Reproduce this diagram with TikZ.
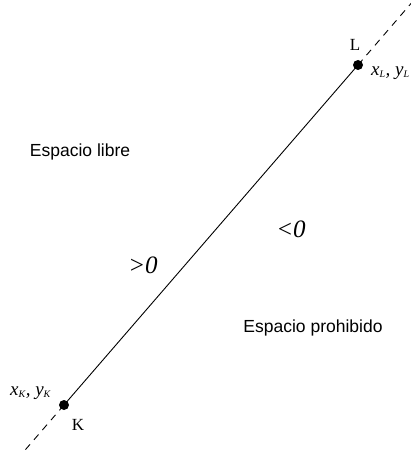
\documentclass[tikz,border=0pt]{standalone}
\usepackage{fontspec}
\setmainfont{Liberation Serif}
\newfontfamily\sansf{Liberation Sans}
\newcommand{\subsz}{\fontsize{10}{10}\selectfont}
\begin{document}
\begin{tikzpicture}[x=1pt,y=-1pt,
  dotpt/.style={circle,fill=black,inner sep=0pt,minimum size=10pt},
  serlab/.style={font=\fontsize{17}{17}\selectfont,inner sep=0pt},
  coordlab/.style={font=\fontsize{19}{19}\selectfont\itshape,inner sep=0pt,anchor=west},
  sanslab/.style={font=\fontsize{17.5}{17.5}\sansf,inner sep=0pt},
  signlab/.style={font=\fontsize{25}{25}\selectfont\itshape,inner sep=0pt}]
\useasboundingbox (0,0) rectangle (411,452);
\node[dotpt] (L) at (358,65) {};
\node[dotpt] (K) at (64,405) {};
\coordinate (Lend) at (414,0);
\coordinate (Kend) at (7,471);
\draw[line width=0.9pt] (K.center) -- (L.center);
\draw[line width=0.9pt,dash pattern=on 7pt off 6pt] (L.center) -- (Lend);
\draw[line width=0.9pt,dash pattern=on 7pt off 6pt] (K.center) -- (Kend);
\node[serlab] (Ltxt) at (355,45) {L};
\node[serlab] (Ktxt) at (78,425) {K};
\node[coordlab] (xyL) at (371,73) {x\textsubscript{\subsz L}, y\textsubscript{\subsz L}};
\node[coordlab] (xyK) at (10,393) {x\textsubscript{\subsz K}, y\textsubscript{\subsz K}};
\node[sanslab] (libre) at (80,152) {Espacio libre};
\node[sanslab] (proh) at (313,328) {Espacio prohibido};
\node[signlab] (gt) at (143,265) {>0};
\node[signlab] (lt) at (291,229) {<0};
\end{tikzpicture}
\end{document}
